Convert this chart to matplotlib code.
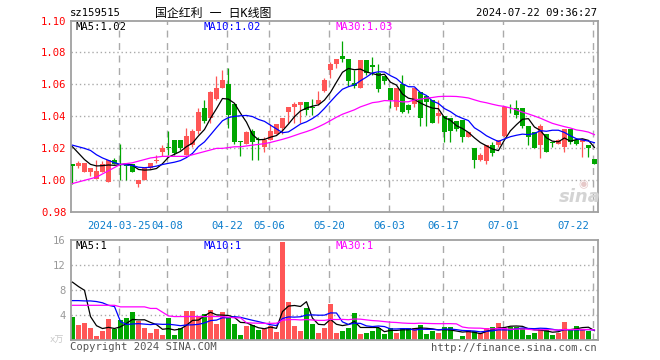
import numpy as np
import pandas as pd
import matplotlib
matplotlib.use('Agg')
import matplotlib.pyplot as plt

# 日K数据 (2024-03-13 .. 2024-07-22)
opens = [1.010, 1.009, 1.005, 1.005, 1.001, 1.005, 0.999, 1.013, 1.0103, 1.010,
         1.010, 0.998, 1.000, 1.008, 1.012, 1.018, 1.021, 1.025, 1.025, 1.016,
         1.022, 1.031, 1.045, 1.039, 1.051, 1.058, 1.060, 1.048, 1.0245, 1.023,
         1.031, 1.026, 1.021, 1.025, 1.029, 1.033, 1.043, 1.046, 1.047, 1.049,
         1.046, 1.048, 1.056, 1.069, 1.073, 1.078, 1.076, 1.061, 1.058, 1.075,
         1.072, 1.067, 1.065, 1.058, 1.046, 1.060, 1.047, 1.048, 1.055, 1.053,
         1.050, 1.040, 1.040, 1.039, 1.037, 1.038, 1.027, 1.020, 1.013, 1.012,
         1.022, 1.022, 1.028, 1.0455, 1.045, 1.045, 1.034, 1.030, 1.022, 1.029,
         1.024, 1.023, 1.021, 1.032, 1.025, 1.024, 1.022, 1.0135]
highs = [1.010, 1.012, 1.011, 1.008, 1.013, 1.012, 1.013, 1.014, 1.023, 1.010,
         1.010, 1.000, 1.008, 1.011, 1.016, 1.022, 1.031, 1.025, 1.025, 1.033,
         1.032, 1.045, 1.050, 1.056, 1.065, 1.069, 1.070, 1.048, 1.0245, 1.031,
         1.032, 1.027, 1.027, 1.035, 1.035, 1.039, 1.046, 1.049, 1.049, 1.049,
         1.051, 1.056, 1.064, 1.074, 1.076, 1.087, 1.076, 1.069, 1.075, 1.075,
         1.077, 1.073, 1.065, 1.058, 1.058, 1.066, 1.048, 1.058, 1.055, 1.053,
         1.050, 1.050, 1.040, 1.039, 1.037, 1.038, 1.030, 1.020, 1.017, 1.022,
         1.024, 1.025, 1.046, 1.048, 1.050, 1.045, 1.034, 1.030, 1.035, 1.029,
         1.024, 1.026, 1.032, 1.032, 1.025, 1.026, 1.022, 1.0135]
lows = [0.998, 1.008, 1.005, 1.003, 1.001, 1.005, 0.999, 1.010, 1.000, 1.000,
        1.005, 0.996, 1.000, 1.007, 1.011, 1.015, 1.016, 1.016, 1.019, 1.016,
        1.021, 1.029, 1.036, 1.036, 1.050, 1.058, 1.033, 1.023, 1.015, 1.023,
        1.013, 1.013, 1.018, 1.025, 1.029, 1.029, 1.036, 1.036, 1.036, 1.041,
        1.041, 1.047, 1.055, 1.064, 1.070, 1.074, 1.059, 1.058, 1.058, 1.066,
        1.066, 1.055, 1.060, 1.045, 1.044, 1.042, 1.042, 1.046, 1.034, 1.034,
        1.036, 1.036, 1.024, 1.024, 1.031, 1.024, 1.027, 1.008, 1.012, 1.010,
        1.015, 1.021, 1.027, 1.042, 1.039, 1.033, 1.022, 1.020, 1.014, 1.018,
        1.021, 1.023, 1.018, 1.023, 1.022, 1.0145, 1.0145, 1.010]
closes = [1.009, 1.011, 1.011, 1.008, 1.006, 1.010, 1.013, 1.010, 1.010, 1.009,
          1.005, 1.000, 1.008, 1.011, 1.013, 1.020, 1.0205, 1.017, 1.020, 1.028,
          1.031, 1.043, 1.037, 1.055, 1.058, 1.063, 1.041, 1.024, 1.024, 1.030,
          1.024, 1.025, 1.025, 1.031, 1.035, 1.039, 1.046, 1.048, 1.049, 1.044,
          1.045, 1.050, 1.063, 1.073, 1.076, 1.076, 1.062, 1.059, 1.075, 1.067,
          1.071, 1.057, 1.062, 1.050, 1.058, 1.043, 1.044, 1.058, 1.039, 1.049,
          1.036, 1.042, 1.030, 1.031, 1.032, 1.027, 1.030, 1.013, 1.016, 1.022,
          1.017, 1.025, 1.046, 1.045, 1.041, 1.034, 1.027, 1.020, 1.034, 1.018,
          1.0235, 1.025, 1.032, 1.024, 1.023, 1.026, 1.020, 1.010]
# 成交量 (万)
volumes = [3.73, 2.46, 2.78, 1.98, 0.75, 1.44, 3.40, 1.87, 3.31, 3.58,
           4.53, 3.04, 1.98, 1.17, 1.82, 0.81, 3.58, 0.86, 1.98, 4.75,
           4.75, 3.84, 4.22, 4.91, 2.62, 4.53, 3.58, 2.67, 0.91, 2.35,
           2.40, 1.71, 1.87, 2.24, 1.34, 15.78, 6.14, 2.35, 1.44, 5.18,
           2.62, 1.17, 1.98, 5.82, 1.23, 1.55, 2.03, 4.43, 1.02, 1.23,
           1.55, 2.03, 1.07, 2.03, 1.23, 2.03, 2.03, 2.03, 2.51, 1.02,
           1.55, 1.23, 2.19, 2.19, 0.27, 0.70, 1.66, 1.55, 1.13, 2.03,
           2.19, 2.83, 2.03, 2.19, 2.19, 1.93, 0.86, 1.23, 1.87, 1.66,
           0.86, 1.23, 2.99, 1.82, 2.30, 1.82, 1.55, 0.27]

# 均线在窗口开头的值 (窗口外数据不可见, 从图上读)
ma5_head = [1.021, 1.017, 1.013, 1.010]
ma10_head = [1.022, 1.021, 1.020, 1.0187, 1.016, 1.014, 1.0125, 1.011, 1.010]
ma30_head = [0.998, 0.999, 1.000, 1.001, 1.002, 1.004, 1.006, 1.008, 1.010, 1.0105,
             1.011, 1.012, 1.013, 1.014, 1.0145, 1.015, 1.015, 1.015, 1.015, 1.015,
             1.016, 1.017, 1.018, 1.019, 1.020, 1.020, 1.0205, 1.021, 1.021]
vma5_head = [9.3, 8.6, 8.0, 3.8]
vma10_head = [6.35, 6.35, 6.3, 6.3, 6.2, 6.0, 5.6, 5.4, 3.0]
vma30_head = [5.6, 5.6, 5.6, 5.6, 5.6, 5.6, 5.6, 5.6, 5.35, 5.35,
              5.35, 5.35, 5.35, 5.1, 5.1, 4.5, 3.9, 3.8, 3.8, 3.8,
              3.8, 3.8, 3.8, 3.8, 3.8, 3.8, 3.7, 3.6, 3.6]

tick_idx = [8, 16, 26, 33, 43, 53, 62, 72, 87]
tick_lbl = ['2024-03-25', '04-08', '04-22', '05-06', '05-20', '06-03', '06-17', '07-01', '07-22']
price_ticks = [0.98, 1.00, 1.02, 1.04, 1.06, 1.08, 1.10]
vol_ticks = [4, 8, 12, 16]

RED = '#ff5656'
GREEN = '#00a600'
GRID = '#aaaaaa'
MONO = ['DejaVu Sans Mono', 'Noto Sans CJK SC']


def with_head(series, n, head):
    ma = pd.Series(series).rolling(n).mean().to_numpy()
    ma[:len(head)] = head
    return ma


o = np.array(opens); h = np.array(highs); l = np.array(lows); c = np.array(closes)
v = np.array(volumes)
x = np.arange(len(c))
up = c >= o
col = np.where(up, RED, GREEN)

fig = plt.figure(figsize=(6.6, 3.6), dpi=100)
W, H = 660.0, 360.0
ax = fig.add_axes([70.7 / W, 1 - 212.3 / H, 527 / W, 191.8 / H])
axv = fig.add_axes([70.7 / W, 1 - 340.3 / H, 527 / W, 100 / H])

for a in (ax, axv):
    a.set_xlim(-0.3, 87.55)
    for s in a.spines.values():
        s.set_color('#a0a0a0')
        s.set_linewidth(1.3)
    a.tick_params(length=0)
    a.set_xticks([])
    for t in tick_idx:
        a.axvline(t - 0.25, color=GRID, lw=1.0, ls=(0, (5, 4)), zorder=0)

# 主图
ax.set_ylim(0.98, 1.10)
ax.set_yticks(price_ticks)
ax.set_yticklabels(['%.2f' % p for p in price_ticks], color='red', family=MONO, fontsize=7.6)
ax.tick_params(axis='y', pad=3)
for p in price_ticks[1:-1]:
    ax.axhline(p, color=GRID, lw=1.0, ls=(0, (1, 2)), zorder=0)

ax.vlines(x, l, h, color=col, lw=0.9, zorder=2)
body_lo = np.minimum(o, c)
body_h = np.maximum(np.abs(c - o), 0.0004)
ax.bar(x, body_h, bottom=body_lo, width=0.75, color=col, lw=0, zorder=3)

ax.plot(x, with_head(c, 5, ma5_head), color='black', lw=0.9, zorder=4)
ax.plot(x, with_head(c, 10, ma10_head), color='#0000ff', lw=0.9, zorder=4)
ax.plot(x, with_head(c, 30, ma30_head), color='#ff00ff', lw=0.9, zorder=4)

for t, s in zip(tick_idx, tick_lbl):
    if t == tick_idx[-1]:
        ax.text(t - 0.9, -0.045, s, transform=ax.get_xaxis_transform(), ha='right', va='top',
                color='#0a7ccc', family=MONO, fontsize=7.6)
    else:
        ax.text(t - 0.25, -0.045, s, transform=ax.get_xaxis_transform(), ha='center', va='top',
                color='#0a7ccc', family=MONO, fontsize=7.6)

# 水印
fig.text(580 / W, 1 - 197 / H, 'sina', color='#d4d4d4', fontsize=13, fontweight='bold',
         fontstyle='italic', ha='center', va='center', zorder=1)
fig.text(583 / W, 1 - 184 / H, '◉', color='#e6c8c8', fontsize=8, ha='center', va='center',
         family='DejaVu Sans', zorder=1)

# 成交量
axv.set_ylim(0, 16)
axv.set_yticks(vol_ticks)
axv.set_yticklabels([str(t) for t in vol_ticks], color='#999999', family=MONO, fontsize=7.6)
for t in vol_ticks[:-1]:
    axv.axhline(t, color=GRID, lw=1.0, ls=(0, (1, 2)), zorder=0)
axv.bar(x, v, width=0.75, color=col, lw=0, zorder=2)
axv.plot(x, with_head(v, 5, vma5_head), color='black', lw=0.9, zorder=4)
axv.plot(x, with_head(v, 10, vma10_head), color='#0000ff', lw=0.9, zorder=4)
axv.plot(x, with_head(v, 30, vma30_head), color='#ff00ff', lw=0.9, zorder=4)


def px(xp, yp, s, **kw):
    fig.text(xp / W, 1 - yp / H, s, family=MONO, **kw)


px(70, 13, 'sz159515', fontsize=7.6, va='center', ha='left')
px(213, 13, '国企红利 一 日K线图', fontsize=8.6, va='center', ha='center')
px(597, 13, '2024-07-22 09:36:27', fontsize=7.6, va='center', ha='right')

px(75, 26.5, 'MA5:1.02', fontsize=7.6, va='center', color='black')
px(204, 26.5, 'MA10:1.02', fontsize=7.6, va='center', color='#0000ff')
px(335, 26.5, 'MA30:1.03', fontsize=7.6, va='center', color='#ff00ff')
px(75, 246, 'MA5:1', fontsize=7.6, va='center', color='black')
px(204, 246, 'MA10:1', fontsize=7.6, va='center', color='#0000ff')
px(335, 246, 'MA30:1', fontsize=7.6, va='center', color='#ff00ff')

px(57, 340, 'x万', fontsize=6.5, va='center', ha='center', color='#c8c8c8')
px(70, 347, 'Copyright 2024 SINA.COM', fontsize=7.6, va='center', ha='left', color='#555555')
px(597, 348, 'http://finance.sina.com.cn', fontsize=7.6, va='center', ha='right', color='#555555')

fig.savefig('out.png', dpi=100, facecolor='white')
